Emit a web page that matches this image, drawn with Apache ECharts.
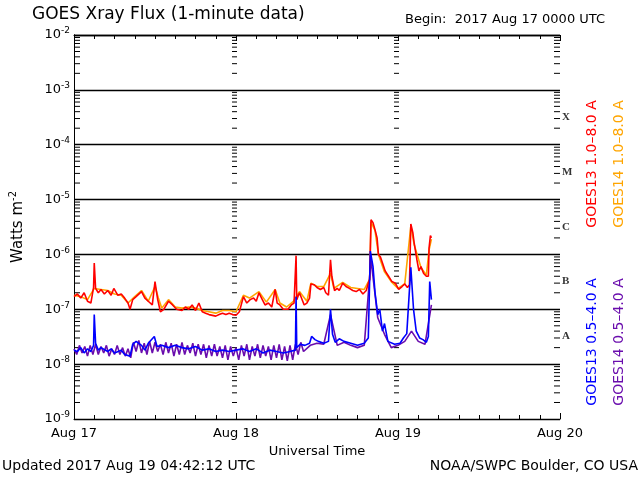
<!DOCTYPE html>
<html><head><meta charset="utf-8">
<script src="https://cdn.jsdelivr.net/npm/echarts@6/dist/echarts.min.js"></script>
<style>html,body{margin:0;padding:0;background:#fff}#c{width:640px;height:480px}</style>
</head><body><div id="c"></div>
<script>
const dayLabels = ['Aug 17','Aug 18','Aug 19','Aug 20'];
const classLetters = ['A','B','C','M','X'];
const classLevels = [3.2e-8,3.2e-7,3.2e-6,3.2e-5,3.2e-4];

const long13H = [0,0.5,1,1.5,2,2.5,2.9,3.0,3.2,3.6,4,4.5,5,5.5,5.9,6.5,7,7.5,8,8.3,8.7,9.2,10,10.5,11,11.6,12,12.4,12.8,13.3,14,14.6,15.2,16,16.5,17,17.5,18,18.5,19,19.5,20,21,21.5,22,22.5,23,23.5,24,24.5,25.1,25.6,26.1,26.6,27,27.4,27.9,28.3,28.8,29.3,29.8,30.1,30.5,31,31.7,32.2,32.6,32.9,33.0,33.4,34.1,34.5,34.9,35.1,35.6,36,36.5,37,37.3,37.7,38.0,38.2,38.6,39,39.3,39.8,40.3,40.8,41.3,41.8,42.3,42.8,43.3,43.6,43.8,44.0,44.3,44.6,44.9,45.1,45.4,45.7,46.1,46.6,47.1,47.6,48.1,48.6,49.0,49.4,49.7,49.9,50.2,50.4,50.8,51.1,51.4,51.8,52.2,52.5,52.6,52.8,52.95];
const long13V = [1.7e-7,1.9e-7,1.6e-7,2.0e-7,1.4e-7,1.3e-7,2.5e-7,7e-7,2.4e-7,2.0e-7,2.3e-7,1.9e-7,2.2e-7,1.8e-7,2.4e-7,1.8e-7,1.9e-7,1.6e-7,1.3e-7,1.0e-7,1.5e-7,1.7e-7,2.1e-7,1.6e-7,1.4e-7,1.2e-7,3.2e-7,1.5e-7,0.9e-7,1.0e-7,1.4e-7,1.2e-7,1.0e-7,0.95e-7,1.1e-7,1.0e-7,1.2e-7,0.95e-7,1.3e-7,0.9e-7,0.85e-7,0.8e-7,0.75e-7,0.8e-7,0.85e-7,0.8e-7,0.85e-7,0.8e-7,0.78e-7,0.9e-7,1.7e-7,1.3e-7,1.5e-7,1.6e-7,1.4e-7,2.0e-7,1.5e-7,1.2e-7,1.3e-7,1.1e-7,2.3e-7,1.3e-7,1.2e-7,1.0e-7,1.0e-7,1.2e-7,1.3e-7,9.5e-7,1.5e-7,2.0e-7,1.2e-7,1.3e-7,1.6e-7,2.9e-7,2.8e-7,2.5e-7,2.3e-7,2.5e-7,2.0e-7,1.8e-7,8e-7,4e-7,2.2e-7,2.4e-7,2.2e-7,3.0e-7,2.6e-7,2.4e-7,2.2e-7,2.1e-7,2.3e-7,1.9e-7,2.2e-7,3.0e-7,3.5e-7,4.3e-6,3.8e-6,2.8e-6,2.0e-6,1.0e-6,9e-7,7e-7,5e-7,4e-7,3.2e-7,3.0e-7,2.3e-7,2.6e-7,2.9e-7,2.5e-7,2.8e-7,3.6e-6,2.5e-6,1.6e-6,8e-7,5e-7,6e-7,4.5e-7,4e-7,4e-7,1.3e-6,2.2e-6,2.0e-6];

const long14H = [0,1,2,3,3.2,4,5,6,7,8,9,10,11,12,12.5,13,14,15,16,17,18,19,20,21,22,23,24,25.1,26,27.4,28.5,29.8,30.5,31.5,32.5,33.4,34.5,35.1,36,37,38.0,38.5,39.8,41,42,43,43.8,44.0,44.6,45.1,46,47,48,49,49.9,50.4,51.4,52.2,52.6,52.95];
const long14V = [1.8e-7,1.7e-7,1.5e-7,2.4e-7,2.4e-7,2.3e-7,2.2e-7,1.9e-7,1.8e-7,1.3e-7,1.7e-7,2.2e-7,1.4e-7,2.6e-7,1.6e-7,1.05e-7,1.5e-7,1.1e-7,1.05e-7,1.1e-7,1.05e-7,0.95e-7,0.9e-7,0.85e-7,0.95e-7,0.95e-7,0.9e-7,1.8e-7,1.6e-7,2.1e-7,1.35e-7,2.3e-7,1.3e-7,1.1e-7,1.4e-7,2.1e-7,1.4e-7,3.0e-7,2.6e-7,2.6e-7,4.5e-7,2.4e-7,3.1e-7,2.5e-7,2.4e-7,2.3e-7,3.5e-7,3.9e-6,2.7e-6,1.0e-6,4.8e-7,3.2e-7,2.4e-7,2.9e-7,3.3e-6,1.5e-6,5.8e-7,4.2e-7,1.2e-6,1.9e-6];

const short13H = [0,0.5,1,1.5,2,2.5,2.9,3.0,3.2,3.6,4,5,5.5,6,7,7.5,8.3,8.7,9.2,10,10.5,11,11.9,12.3,13,14,15,16,17,18,19,20,21,22,23,24,25,26,27,28,29,30,31,32,32.8,32.9,33.0,33.5,34.2,34.9,35.2,35.7,36.2,37,37.7,38.0,38.3,38.7,39.3,40,41,42,43,43.6,43.9,44.3,44.6,45.0,45.3,45.7,46.0,46.5,47.5,48.3,48.8,49.3,49.9,50.3,50.7,51.2,51.7,52.2,52.5,52.7,52.95];
const short13V = [1.8e-8,1.7e-8,2.0e-8,1.6e-8,1.9e-8,1.7e-8,2.2e-8,8e-8,2.4e-8,1.8e-8,2.0e-8,1.7e-8,1.9e-8,1.6e-8,1.8e-8,1.5e-8,1.4e-8,2.3e-8,2.6e-8,2.2e-8,1.8e-8,2.4e-8,3.2e-8,2.1e-8,2.2e-8,2.0e-8,2.2e-8,2.0e-8,1.9e-8,2.1e-8,1.8e-8,1.9e-8,1.7e-8,1.8e-8,1.7e-8,1.8e-8,1.9e-8,1.7e-8,1.9e-8,1.6e-8,1.8e-8,1.7e-8,1.6e-8,1.7e-8,1.8e-8,1.7e-7,2.0e-8,2.3e-8,2.2e-8,2.4e-8,3.2e-8,2.8e-8,2.6e-8,2.4e-8,2.6e-8,1.0e-7,3.5e-8,2.5e-8,2.9e-8,2.6e-8,2.4e-8,2.2e-8,2.4e-8,3.0e-8,1.15e-6,6e-7,2.0e-7,8e-8,1.0e-7,4e-8,5.5e-8,2.6e-8,2.3e-8,2.4e-8,3.0e-8,3.6e-8,5.8e-7,1.0e-7,4e-8,3e-8,2.8e-8,2.5e-8,3.2e-8,3.2e-7,1.5e-7];

const short14H = [0,0.4,0.8,1.2,1.6,2,2.4,2.8,3.2,3.6,4,4.4,4.8,5.2,5.6,6,6.4,6.8,7.2,7.6,8,8.4,8.8,9.2,9.6,10,10.4,10.8,11.2,11.6,12,12.4,12.8,13.2,13.6,14,14.4,14.8,15.2,15.6,16,16.4,16.8,17.2,17.6,18,18.4,18.8,19.2,19.6,20,20.4,20.8,21.2,21.6,22,22.4,22.8,23.2,23.6,24,24.4,24.8,25.2,25.6,26,26.4,26.8,27.2,27.6,28,28.4,28.8,29.2,29.6,30,30.4,30.8,31.2,31.6,32,32.4,32.8,33.2,33.6,34,35,36,37,38,39,40,41,42,43,44,45,46,47,48,49,50,51,52,52.95];
const short14V = [1.9e-8,1.5e-8,2.2e-8,1.6e-8,2.1e-8,1.4e-8,2.2e-8,1.5e-8,2.3e-8,1.5e-8,2.1e-8,1.6e-8,2.2e-8,1.4e-8,1.9e-8,1.5e-8,2.2e-8,1.5e-8,2.0e-8,1.4e-8,1.9e-8,1.3e-8,2.5e-8,1.7e-8,2.7e-8,1.6e-8,2.4e-8,1.5e-8,2.6e-8,1.6e-8,2.5e-8,1.7e-8,2.3e-8,1.5e-8,2.5e-8,1.6e-8,2.4e-8,1.4e-8,2.3e-8,1.5e-8,2.5e-8,1.5e-8,2.2e-8,1.6e-8,2.4e-8,1.4e-8,2.3e-8,1.5e-8,2.3e-8,1.3e-8,2.2e-8,1.4e-8,2.3e-8,1.4e-8,2.1e-8,1.3e-8,2.2e-8,1.2e-8,2.1e-8,1.4e-8,2.0e-8,1.2e-8,2.2e-8,1.4e-8,2.3e-8,1.2e-8,2.1e-8,1.4e-8,2.3e-8,1.3e-8,2.2e-8,1.4e-8,2.1e-8,1.2e-8,2.2e-8,1.3e-8,2.3e-8,1.2e-8,2.1e-8,1.15e-8,2.2e-8,1.2e-8,2.3e-8,1.5e-8,2.5e-8,1.7e-8,2.2e-8,2.4e-8,2.3e-8,8e-8,2.2e-8,2.5e-8,2.2e-8,2.0e-8,2.2e-8,8e-7,7e-8,3.5e-8,2.0e-8,2.2e-8,2.6e-8,4e-8,2.6e-8,2.3e-8,1.2e-7];

const pairs = (h, v) => h.map((x, i) => [x, v[i]]);
const ticks = [];
for (let k = -9; k < -2; k++) for (let m = 2; m <= 9; m++) ticks.push(m * Math.pow(10, k));

const chart = echarts.init(document.getElementById('c'));
const font = 'DejaVu Sans';
const lineS = (name, data, color, z) => ({
  type: 'line', name, data, showSymbol: false, symbol: 'none', animation: false,
  lineStyle: { color, width: 1.6 }, z
});
chart.setOption({
  animation: false,
  backgroundColor: '#fff',
  grid: { left: 72, right: 80, top: 35, bottom: 61 },
  xAxis: [{
    type: 'value', min: 0, max: 72, interval: 24,
    axisLine: { lineStyle: { color: '#000' } },
    axisTick: { inside: true, length: 6, lineStyle: { color: '#000' } },
    minorTick: { show: true, splitNumber: 8, length: 4, lineStyle: { color: '#000' } },
    splitLine: { show: false },
    axisLabel: { color: '#000', fontFamily: font, fontSize: 13, margin: 8,
      formatter: v => dayLabels[Math.round(v / 24)] },
    name: 'Universal Time', nameLocation: 'middle', nameGap: 24,
    nameTextStyle: { color: '#000', fontFamily: font, fontSize: 13 }
  }, {
    type: 'value', min: 0, max: 72, interval: 24, position: 'top',
    axisLine: { lineStyle: { color: '#000' } },
    axisTick: { inside: true, length: 6, lineStyle: { color: '#000' } },
    minorTick: { show: true, splitNumber: 8, length: 4, lineStyle: { color: '#000' } },
    splitLine: { show: false }, axisLabel: { show: false }
  }],
  yAxis: [{
    type: 'log', logBase: 10, min: 1e-9, max: 1e-2,
    axisLine: { show: true, lineStyle: { color: '#000' } },
    axisTick: { show: false },
    splitLine: { show: true, lineStyle: { color: '#000', width: 1.3 } },
    axisLabel: { color: '#000', fontFamily: font, fontSize: 13, margin: 4,
      formatter: v => '10{s|' + Math.round(Math.log10(v)) + '}',
      rich: { s: { fontSize: 9, verticalAlign: 'top', padding: [0, 0, 8, 0], fontFamily: font } } },
    name: 'Watts m{s|-2}', nameLocation: 'middle', nameGap: 46,
    nameTextStyle: { color: '#000', fontFamily: font, fontSize: 15,
      rich: { s: { fontSize: 10, padding: [0, 0, 10, 0], fontFamily: font } } }
  }, {
    type: 'log', logBase: 10, min: 1e-9, max: 1e-2, position: 'right',
    axisLine: { show: true, lineStyle: { color: '#000' } },
    axisTick: { show: false }, axisLabel: { show: false }, splitLine: { show: false }
  }],
  series: [
    {
      type: 'custom', silent: true, z: 2,
      data: ticks.map(v => [v]),
      renderItem: (params, api) => {
        const v = api.value(0);
        const l = api.coord([0, v]), r = api.coord([72, v]);
        const d1 = api.coord([24, v]), d2 = api.coord([48, v]);
        const st = { stroke: '#000', lineWidth: 1 };
        return { type: 'group', children: [
          { type: 'line', shape: { x1: l[0], y1: l[1], x2: l[0] + 6, y2: l[1] }, style: st },
          { type: 'line', shape: { x1: r[0] - 6, y1: r[1], x2: r[0], y2: r[1] }, style: st },
          { type: 'line', shape: { x1: d1[0] - 4, y1: d1[1], x2: d1[0] + 1, y2: d1[1] }, style: st },
          { type: 'line', shape: { x1: d2[0] - 4, y1: d2[1], x2: d2[0] + 1, y2: d2[1] }, style: st }
        ]};
      }
    },
    {
      type: 'scatter', symbolSize: 0, silent: true,
      data: classLevels.map((v, i) => ({ value: [72, v], name: classLetters[i] })),
      label: { show: true, position: 'right', distance: 2, formatter: p => p.name,
        color: '#000', fontFamily: 'Liberation Serif', fontSize: 11, fontWeight: 'bold' }
    },
    lineS('GOES14 long', pairs(long14H, long14V), '#ffa500', 3),
    lineS('GOES13 long', pairs(long13H, long13V), '#ff0000', 4),
    lineS('GOES14 short', pairs(short14H, short14V), '#6a0dad', 3),
    lineS('GOES13 short', pairs(short13H, short13V), '#0000ff', 4)
  ],
  graphic: [
    { type: 'text', left: 32, top: 6, style: { text: 'GOES Xray Flux (1-minute data)', font: '17px "DejaVu Sans"', fill: '#000' } },
    { type: 'text', left: 405, top: 13, style: { text: 'Begin:  2017 Aug 17 0000 UTC', font: '13px "DejaVu Sans"', fill: '#000' } },
    { type: 'text', left: 2, top: 459, style: { text: 'Updated 2017 Aug 19 04:42:12 UTC', font: '14px "DejaVu Sans"', fill: '#000' } },
    { type: 'text', right: 2, top: 459, style: { text: 'NOAA/SWPC Boulder, CO USA', font: '14px "DejaVu Sans"', fill: '#000' } },
    { type: 'text', x: 592, y: 164, rotation: Math.PI / 2, style: { text: 'GOES13 1.0\u20138.0 A', font: '14px "DejaVu Sans"', fill: '#ff0000', align: 'center', verticalAlign: 'middle' } },
    { type: 'text', x: 619, y: 164, rotation: Math.PI / 2, style: { text: 'GOES14 1.0\u20138.0 A', font: '14px "DejaVu Sans"', fill: '#ffa500', align: 'center', verticalAlign: 'middle' } },
    { type: 'text', x: 592, y: 342, rotation: Math.PI / 2, style: { text: 'GOES13 0.5\u20134.0 A', font: '14px "DejaVu Sans"', fill: '#0000ff', align: 'center', verticalAlign: 'middle' } },
    { type: 'text', x: 619, y: 342, rotation: Math.PI / 2, style: { text: 'GOES14 0.5\u20134.0 A', font: '14px "DejaVu Sans"', fill: '#6a0dad', align: 'center', verticalAlign: 'middle' } }
  ]
});
</script></body></html>
